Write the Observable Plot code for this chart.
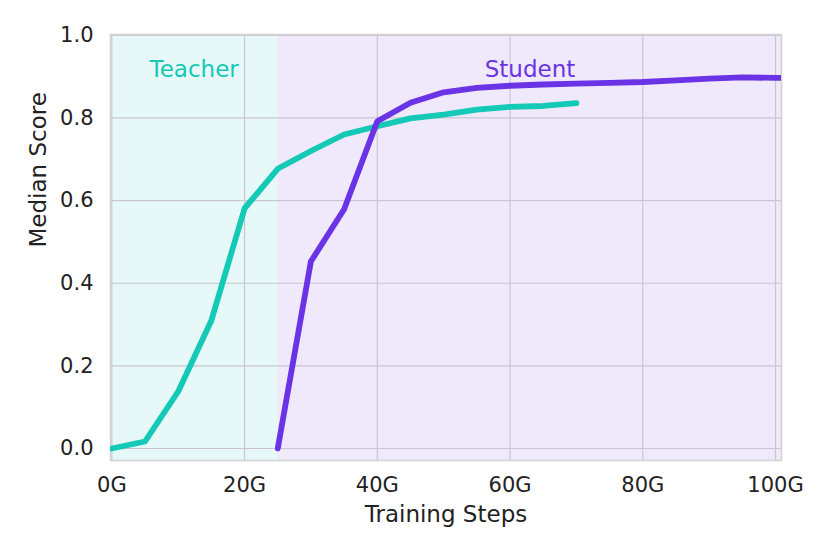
<!DOCTYPE html>
<html><head><meta charset="utf-8">
<script src="https://cdn.jsdelivr.net/npm/d3@7"></script>
<script src="https://cdn.jsdelivr.net/npm/@observablehq/plot@0.6"></script>
<style>body{margin:0;background:#fff}svg{font-family:"DejaVu Sans",sans-serif}</style>
</head><body><div id="chart"></div>
<script>
const teacherSteps = [0,5,10,15,20,25,30,35,40,45,50,55,60,65,70];
const teacherScore = [0.0,0.017,0.138,0.31,0.581,0.677,0.72,0.76,0.78,0.799,0.808,0.82,0.827,0.829,0.836];
const studentSteps = [25,30,35,40,45,50,55,60,65,70,75,80,85,90,95,100,101];
const studentScore = [0.0,0.453,0.579,0.792,0.837,0.862,0.873,0.878,0.881,0.883,0.885,0.887,0.891,0.895,0.898,0.897,0.897];
const xTicks = [0,20,40,60,80,100];
const yTicks = [0,0.2,0.4,0.6,0.8,1.0];
const phases = [{name:"Teacher", x1:0, x2:25, lx:12.4, fill:"#e6f8f7", color:"#14c9b5"},
                {name:"Student", x1:25, x2:101, lx:63, fill:"#f0e9fb", color:"#6a33e6"}];

const teacher = teacherSteps.map((x,i)=>({x, y:teacherScore[i]}));
const student = studentSteps.map((x,i)=>({x, y:studentScore[i]}));
const xDom = [-0.2, 100.9], yDom = [-0.029, 1.002];

const chart = Plot.plot({
  width: 830, height: 554,
  marginLeft: 110, marginRight: 49, marginTop: 34, marginBottom: 94,
  style: {fontFamily: "DejaVu Sans, sans-serif", color: "#222"},
  x: {domain: xDom, label: null},
  y: {domain: yDom, label: null},
  marks: [
    Plot.rect(phases, {x1: "x1", x2: "x2", y1: yDom[0], y2: yDom[1], fill: "fill", clip: true}),
    Plot.ruleX(xTicks, {stroke: "#c9c6cf", strokeWidth: 1.2}),
    Plot.ruleY(yTicks, {stroke: "#c9c6cf", strokeWidth: 1.2}),
    Plot.frame({stroke: "#d3d3d3", strokeWidth: 1.6}),
    Plot.line(teacher, {x: "x", y: "y", stroke: phases[0].color, strokeWidth: 5.8, strokeLinecap: "round", clip: true}),
    Plot.line(student, {x: "x", y: "y", stroke: phases[1].color, strokeWidth: 5.8, strokeLinecap: "round", clip: true}),
    Plot.text(phases, {x: "lx", y: 0.918, text: "name", fill: "color", fontSize: 23}),
    Plot.axisX({ticks: xTicks, tickFormat: d => d + "G", tickSize: 0, tickPadding: 17, fontSize: 21, label: null}),
    Plot.axisY({ticks: yTicks, tickFormat: d => d.toFixed(1), tickSize: 0, tickPadding: 17, fontSize: 21, label: null}),
    Plot.text(["Training Steps"], {frameAnchor: "bottom", dy: 61, fontSize: 23, fill: "#222"}),
    Plot.text(["Median Score"], {frameAnchor: "left", dx: -72, rotate: -90, fontSize: 23, fill: "#222"})
  ]
});
document.getElementById("chart").append(chart);
</script></body></html>
